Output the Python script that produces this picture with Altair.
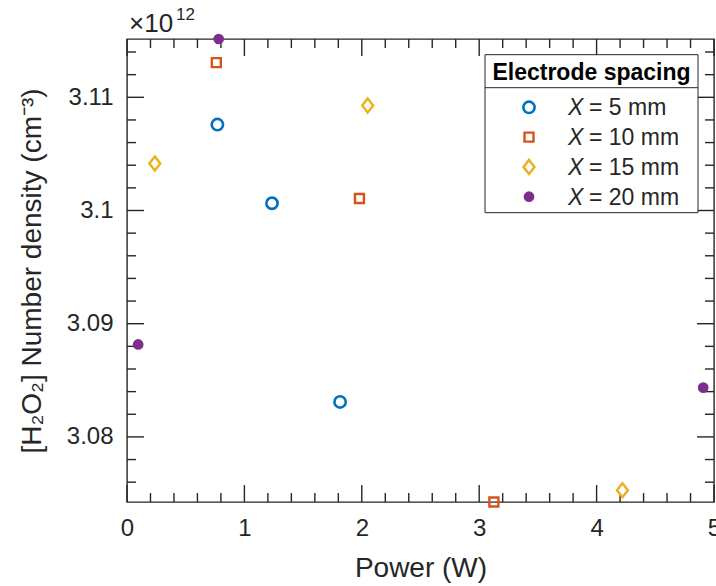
import altair as alt
import pandas as pd

# H2O2 number density (units of 1e12 cm^-3) against discharge power, per electrode spacing
spacing_labels = ["5 mm", "10 mm", "15 mm", "20 mm"]
power_5mm = [0.770, 1.235, 1.815]
density_5mm = [3.10759, 3.10064, 3.08309]
power_10mm = [0.761, 1.980, 3.125]
density_10mm = [3.11306, 3.10106, 3.07425]
power_15mm = [0.237, 2.050, 4.220]
density_15mm = [3.10415, 3.10927, 3.07529]
power_20mm = [0.095, 0.781, 4.908]
density_20mm = [3.08817, 3.11515, 3.08435]

# Axis ticks
x_major = [0, 1, 2, 3, 4, 5]
x_minor = [0.2, 0.4, 0.6, 0.8, 1.2, 1.4, 1.6, 1.8, 2.2, 2.4, 2.6, 2.8,
           3.2, 3.4, 3.6, 3.8, 4.2, 4.4, 4.6, 4.8]
y_major = [3.08, 3.09, 3.10, 3.11]
y_minor = [3.076, 3.078, 3.082, 3.084, 3.086, 3.088, 3.092, 3.094, 3.096,
           3.098, 3.102, 3.104, 3.106, 3.108, 3.112, 3.114]

all_density = density_5mm + density_10mm + density_15mm + density_20mm
y_lo, y_hi = min(all_density), max(all_density)

# Styling
FONT = "Liberation Sans"
INK = "#262626"
BLUE, ORANGE, YELLOW, PURPLE = "#0072BD", "#D95319", "#EDB120", "#7E2F8E"
W, H = 587, 463
MAJOR, MINOR = 17, 9
DIAMOND = "M0,-1L0.78,0L0,1L-0.78,0Z"

x_scale = alt.Scale(domain=[0, 5], nice=False, zero=False)
y_scale = alt.Scale(domain=[y_lo, y_hi], nice=False, zero=False)

x_axis = alt.Axis(values=x_major, ticks=False, tickSize=0, domain=False, grid=False,
                  labelFont=FONT, labelFontSize=24, labelColor=INK, labelPadding=14,
                  labelFlush=False, labelOverlap=False, labelBound=False,
                  titleFont=FONT, titleFontSize=28, titleFontWeight="normal",
                  titleColor=INK, titleX=W / 2, titleY=74, titleBaseline="alphabetic",
                  titleAlign="center")
y_axis = alt.Axis(values=y_major, format="~g", ticks=False, tickSize=0, domain=False,
                  grid=False, labelFont=FONT, labelFontSize=24, labelColor=INK,
                  labelPadding=14, labelFlush=False, labelOverlap=False, labelBound=False,
                  titleFont=FONT, titleFontSize=28, titleFontWeight="normal",
                  titleColor=INK, titleAngle=270, titleX=-87, titleY=H / 2,
                  titleBaseline="alphabetic", titleAlign="center")

X = alt.X("power:Q", scale=x_scale, axis=x_axis, title="Power (W)")
Y = alt.Y("density:Q", scale=y_scale, axis=y_axis,
          title="[H\u2082O\u2082] Number density (cm\u207b\u00b3)")


def frame(xs=None, ys=None):
    d = {}
    if xs is not None:
        d["power"] = xs
    if ys is not None:
        d["density"] = ys
    return pd.DataFrame(d)


one = pd.DataFrame({"k": [0]})

# Series markers (MATLAB-like styles)
styles = [
    dict(shape="circle", filled=False, color=BLUE, strokeWidth=2.6, size=128),
    dict(shape="square", filled=False, color=ORANGE, strokeWidth=2.4, size=81),
    dict(shape=DIAMOND, filled=False, color=YELLOW, strokeWidth=2.5, size=196),
    dict(shape="circle", filled=True, color=PURPLE, strokeWidth=0, size=115),
]
series = [(power_5mm, density_5mm), (power_10mm, density_10mm),
          (power_15mm, density_15mm), (power_20mm, density_20mm)]

layers = []

# Inward ticks on all four sides of the box
tick_style = dict(color=INK, strokeWidth=1.4)
for vals, ln in ((x_major, MAJOR), (x_minor, MINOR)):
    layers.append(alt.Chart(frame(xs=vals)).mark_rule(**tick_style).encode(
        x=X, y=alt.value(H), y2=alt.value(H - ln)))
    layers.append(alt.Chart(frame(xs=vals)).mark_rule(**tick_style).encode(
        x=X, y=alt.value(0), y2=alt.value(ln)))
for vals, ln in ((y_major, MAJOR), (y_minor, MINOR)):
    layers.append(alt.Chart(frame(ys=vals)).mark_rule(**tick_style).encode(
        y=Y, x=alt.value(0), x2=alt.value(ln)))
    layers.append(alt.Chart(frame(ys=vals)).mark_rule(**tick_style).encode(
        y=Y, x=alt.value(W), x2=alt.value(W - ln)))

# Data points
for (px, py), st in zip(series, styles):
    layers.append(alt.Chart(frame(px, py)).mark_point(opacity=1, **st).encode(x=X, y=Y))

# Exponent label above the y axis
layers.append(alt.Chart(one).mark_text(text="\u00d710", font=FONT, fontSize=26, color=INK,
                                       align="left", baseline="alphabetic").encode(
    x=alt.value(2), y=alt.value(-7)))
layers.append(alt.Chart(one).mark_text(text="12", font=FONT, fontSize=17, color=INK,
                                       align="left", baseline="alphabetic").encode(
    x=alt.value(49), y=alt.value(-19)))

# Legend box
LX0, LX1, LY0, LY1, LSEP = 358, 571, 15.7, 173.7, 48.7
layers.append(alt.Chart(one).mark_rect(fill="white", stroke=INK, strokeWidth=1).encode(
    x=alt.value(LX0), x2=alt.value(LX1), y=alt.value(LY0), y2=alt.value(LY1)))
layers.append(alt.Chart(one).mark_rule(color=INK, strokeWidth=1).encode(
    x=alt.value(LX0), x2=alt.value(LX1), y=alt.value(LSEP)))
layers.append(alt.Chart(one).mark_text(text="Electrode spacing", font=FONT, fontSize=23,
                                       fontWeight="bold", color="black", align="center",
                                       baseline="alphabetic").encode(
    x=alt.value((LX0 + LX1) / 2), y=alt.value(40.5)))
ROW0, ROW_STEP = 68.3, 29.8
for i, (lab, st) in enumerate(zip(spacing_labels, styles)):
    cy = ROW0 + ROW_STEP * i
    layers.append(alt.Chart(one).mark_point(opacity=1, **st).encode(
        x=alt.value(402), y=alt.value(cy)))
    layers.append(alt.Chart(one).mark_text(text="X", font=FONT, fontSize=23, fontStyle="italic",
                                           color=INK, align="left", baseline="alphabetic").encode(
        x=alt.value(441), y=alt.value(cy + 7.8)))
    layers.append(alt.Chart(one).mark_text(text=f"= {lab}", font=FONT, fontSize=23, color=INK,
                                           align="left", baseline="alphabetic").encode(
        x=alt.value(462), y=alt.value(cy + 7.8)))

chart = alt.layer(*layers).properties(
    width=W, height=H,
    padding={"left": 127, "top": 39, "right": 2, "bottom": 84},
    autosize=alt.AutoSizeParams(type="none"),
    background="white",
).configure_view(stroke=INK, strokeWidth=1.4)

chart.save("out.html", embed_options={"renderer": "svg", "actions": False})
